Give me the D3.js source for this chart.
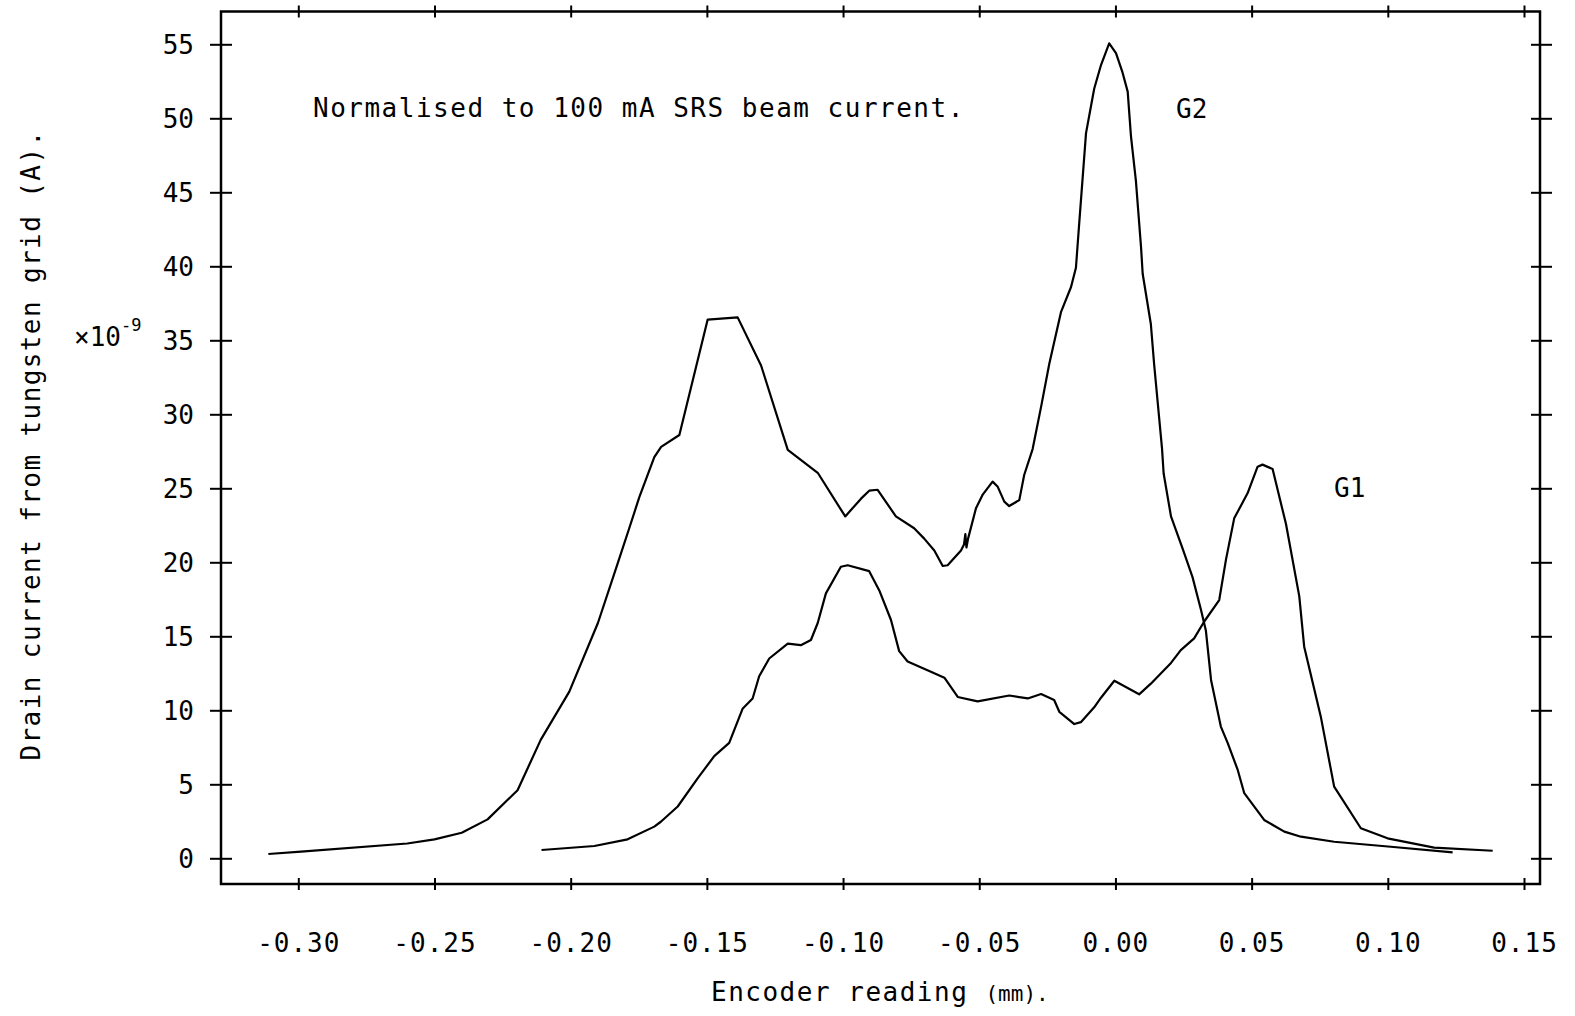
<!DOCTYPE html>
<html>
<head>
<meta charset="utf-8">
<script src="https://cdn.jsdelivr.net/npm/d3@7"></script>
<style>
  body { margin: 0; background: #fff; }
  svg text { font-family: "DejaVu Sans Mono", monospace; fill: #000; }
</style>
</head>
<body>
<div id="chart"></div>
<script>
// encoder reading (mm) and drain current (x10^-9 A)
var g2Encoder = [-0.311, -0.299, -0.260, -0.250, -0.240, -0.2305, -0.2195, -0.211, -0.2005, -0.190,
    -0.1828, -0.1785, -0.1748, -0.1693, -0.1668, -0.1601, -0.1497, -0.1387, -0.1301, -0.1203,
    -0.1093, -0.0992, -0.0934, -0.0904, -0.0873, -0.0806, -0.0739, -0.0702, -0.0665, -0.0634,
    -0.0616, -0.0567, -0.0556, -0.0551, -0.0547, -0.0541, -0.0512, -0.0488, -0.0451, -0.0432,
    -0.0408, -0.039, -0.0353, -0.0335, -0.0304, -0.0273, -0.0243, -0.0200, -0.0163, -0.0145,
    -0.0133, -0.0108, -0.0078, -0.0053, -0.0023, 0.0002, 0.0026, 0.0045, 0.0057, 0.0075,
    0.0094, 0.010, 0.013, 0.0142, 0.0171, 0.0177, 0.0204, 0.0247, 0.0283, 0.0314,
    0.0332, 0.0351, 0.0387, 0.0412, 0.0449, 0.0473, 0.0546, 0.062, 0.0681, 0.0803,
    0.1011, 0.1238]
var g2Current = [0.29, 0.45, 1.0, 1.28, 1.73, 2.63, 4.6, 8.0, 11.26, 15.9,
    19.9, 22.3, 24.4, 27.1, 27.8, 28.6, 36.4, 36.55, 33.3, 27.6,
    26.05, 23.1, 24.3, 24.84, 24.9, 23.1, 22.3, 21.6, 20.8, 19.75,
    19.8, 20.8, 21.2, 21.9, 21.0, 21.6, 23.65, 24.55, 25.45, 25.1,
    24.1, 23.8, 24.2, 25.9, 27.65, 30.5, 33.4, 36.9, 38.6, 39.9,
    42.9, 49.0, 52.0, 53.6, 55.07, 54.4, 53.1, 51.8, 48.8, 45.8,
    41.3, 39.5, 36.1, 33.4, 27.7, 26.0, 23.1, 20.9, 19.0, 16.8,
    15.4, 12.05, 8.9, 7.8, 5.97, 4.4, 2.59, 1.8, 1.46, 1.12,
    0.78, 0.4]

var g1Encoder = [-0.2107, -0.1913, -0.1791, -0.1693, -0.1669, -0.1607, -0.1534, -0.1473, -0.1418, -0.1369,
    -0.1332, -0.1308, -0.1271, -0.1203, -0.1155, -0.1118, -0.1093, -0.1063, -0.1008, -0.0983,
    -0.0904, -0.0867, -0.0824, -0.0794, -0.0763, -0.069, -0.0628, -0.0579, -0.0506, -0.039,
    -0.0322, -0.0273, -0.0225, -0.0206, -0.0151, -0.0127, -0.0078, -0.0053, -0.0004, 0.0087,
    0.013, 0.0204, 0.024, 0.0289, 0.0326, 0.0381, 0.0406, 0.0436, 0.0485, 0.0522,
    0.054, 0.0577, 0.0626, 0.0675, 0.0693, 0.0754, 0.0803, 0.0901, 0.0999, 0.117,
    0.1385]
var g1Current = [0.56, 0.83, 1.28, 2.14, 2.47, 3.5, 5.4, 6.9, 7.8, 10.1,
    10.8, 12.3, 13.5, 14.5, 14.4, 14.75, 15.9, 17.9, 19.7, 19.8,
    19.4, 18.1, 16.1, 14.0, 13.3, 12.7, 12.2, 10.9, 10.6, 11.0,
    10.8, 11.1, 10.7, 9.9, 9.07, 9.2, 10.2, 10.85, 12.0, 11.08,
    11.8, 13.2, 14.07, 14.86, 16.0, 17.45, 20.2, 22.97, 24.66, 26.46,
    26.6, 26.3, 22.6, 17.7, 14.3, 9.57, 4.84, 2.03, 1.35, 0.72,
    0.51]

var xTicks = [-0.30, -0.25, -0.20, -0.15, -0.10, -0.05, 0.00, 0.05, 0.10, 0.15]
var yTicks = [0, 5, 10, 15, 20, 25, 30, 35, 40, 45, 50, 55]

var W = 1575, H = 1016
var frame = { left: 221, right: 1540, top: 11.5, bottom: 884 }

var x = d3.scaleLinear().domain([-0.30, 0.15]).range([298.3, 1524])
var y = d3.scaleLinear().domain([0, 55]).range([858.3, 44.3])

var svg = d3.select("#chart")
            .append("svg")
            .attr("width", W)
            .attr("height", H)

// frame
svg.append("rect")
   .attr("x", frame.left)
   .attr("y", frame.top)
   .attr("width", frame.right - frame.left)
   .attr("height", frame.bottom - frame.top)
   .attr("fill", "none")
   .attr("stroke", "#000")
   .attr("stroke-width", 2.5)

function plainTicks(g) {
    g.select(".domain").remove()
    g.selectAll(".tick line")
     .attr("stroke", "#000")
     .attr("stroke-width", 2)
}

// bottom axis with labels
var bottomAxis = svg.append("g")
   .attr("transform", "translate(0," + frame.bottom + ")")
   .call(d3.axisBottom(x).tickValues(xTicks).tickSize(0))
bottomAxis.call(plainTicks)
bottomAxis.selectAll(".tick line").attr("y1", -6).attr("y2", 6)
bottomAxis.selectAll(".tick text")
      .attr("y", 68)
      .attr("dy", 0)
      .style("font-size", "26px")
      .style("letter-spacing", "1px")
      .text(function (d) { return d3.format(".2f")(d).replace("−", "-") })

// top axis, ticks only
var topAxis = svg.append("g")
   .attr("transform", "translate(0," + frame.top + ")")
   .call(d3.axisTop(x).tickValues(xTicks).tickSize(0).tickFormat(""))
topAxis.call(plainTicks)
topAxis.selectAll(".tick line").attr("y1", -6).attr("y2", 6)

// left axis with labels
var leftAxis = svg.append("g")
   .attr("transform", "translate(" + frame.left + ",0)")
   .call(d3.axisLeft(y).tickValues(yTicks).tickSize(0))
leftAxis.call(plainTicks)
leftAxis.selectAll(".tick line").attr("x1", -11).attr("x2", 11)
leftAxis.selectAll(".tick text")
    .attr("x", -27)
    .attr("dy", "0.36em")
    .style("font-size", "26px")

// right axis, ticks only
var rightAxis = svg.append("g")
   .attr("transform", "translate(" + frame.right + ",0)")
   .call(d3.axisRight(y).tickValues(yTicks).tickSize(0).tickFormat(""))
rightAxis.call(plainTicks)
rightAxis.selectAll(".tick line").attr("x1", -9).attr("x2", 12)

// curves
var line = d3.line()
             .x(function (d) { return x(d[0]) })
             .y(function (d) { return y(d[1]) })

var series = [
    { key: "G2", pts: d3.zip(g2Encoder, g2Current) },
    { key: "G1", pts: d3.zip(g1Encoder, g1Current) }
]

svg.selectAll(".curve")
   .data(series)
   .enter().append("path")
   .attr("class", "curve")
   .attr("d", function (d) { return line(d.pts) })
   .attr("fill", "none")
   .attr("stroke", "#000")
   .attr("stroke-width", 2.2)
   .attr("stroke-linejoin", "round")

// labels
svg.append("text")
   .attr("x", 313)
   .attr("y", 116.5)
   .style("font-size", "26px")
   .style("letter-spacing", "1.5px")
   .text("Normalised to 100 mA SRS beam current.")

svg.append("text")
   .attr("x", 1176)
   .attr("y", 118)
   .style("font-size", "26px")
   .text("G2")

svg.append("text")
   .attr("x", 1334)
   .attr("y", 497)
   .style("font-size", "26px")
   .text("G1")

var xTitle = svg.append("text")
   .attr("x", 711)
   .attr("y", 1001)
   .style("font-size", "26px")
   .style("letter-spacing", "1.5px")
xTitle.append("tspan").text("Encoder reading ")
xTitle.append("tspan").style("font-size", "21px").style("letter-spacing", "0px").text("(mm).")

svg.append("text")
   .attr("transform", "translate(40,445) rotate(-90)")
   .attr("text-anchor", "middle")
   .style("font-size", "26px")
   .style("letter-spacing", "1.4px")
   .text("Drain current from tungsten grid (A).")

var mult = svg.append("text")
   .attr("x", 74)
   .attr("y", 346)
   .style("font-size", "26px")
mult.append("tspan").text("×10")
mult.append("tspan")
    .attr("dy", -15)
    .style("font-size", "17px")
    .text("-9")
</script>
</body>
</html>
